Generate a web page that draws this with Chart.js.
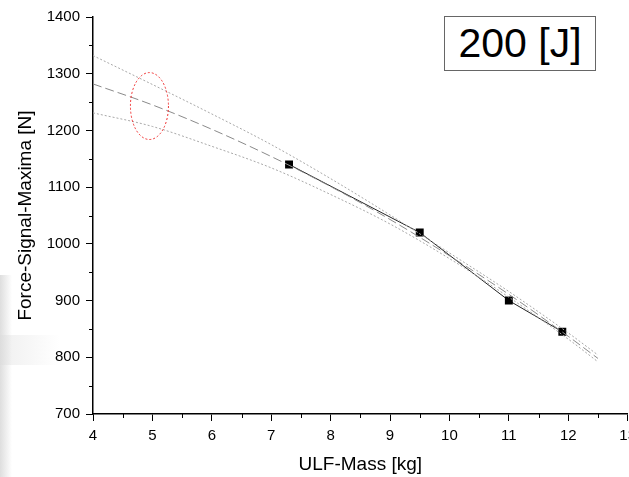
<!DOCTYPE html>
<html>
<head>
<meta charset="utf-8">
<script src="https://cdn.jsdelivr.net/npm/chart.js@4.4.1/dist/chart.umd.min.js"></script>
<style>
  body { margin: 0; overflow: hidden; background: #fff; width: 629px; height: 477px; position: relative; }
  #wrap { position: absolute; left: 0; top: 0; width: 642px; height: 477px; }
  #shade { position: absolute; left: 0; top: 275px; width: 12px; height: 202px;
           background: linear-gradient(to right, #dedede, #ffffff); }
  #shade2 { position: absolute; left: 0; top: 335px; width: 60px; height: 30px;
            background: linear-gradient(to right, rgba(220,220,220,0.45), rgba(255,255,255,0)); }
  #energy { position: absolute; left: 444px; top: 16px; width: 152px; height: 55px;
            border: 1px solid #666; background: #fff; box-sizing: border-box;
            font-family: "Liberation Sans", Arial, sans-serif; font-size: 41px; line-height: 53px;
            text-align: center; color: #000; }
</style>
</head>
<body>
<div id="shade"></div>
<div id="shade2"></div>
<div id="wrap"><canvas id="forceChart"></canvas></div>
<div id="energy">200 [J]</div>
<script>
// measured points (ULF mass vs force maxima)
const massValues = [7.3, 9.5, 11.0, 11.9];
const forceValues = [1140, 1020, 900, 845];

// fit curve + confidence band
const fitMass = [4, 5, 6, 7, 8, 9, 10, 11, 12, 12.5];
const fitForce = [1282, 1245, 1202, 1154, 1101, 1043, 979, 911, 837, 798];
const upperForce = [1332, 1281, 1229, 1175, 1115, 1051, 984, 916, 843, 804];
const lowerForce = [1231, 1207, 1172, 1134, 1087, 1035, 974, 906, 832, 792];

// red dotted ellipse marking the extrapolated region (center + radii in data units)
const markCenter = [4.95, 1243];
const markRadius = [0.32, 59];

const xTicks = [4, 5, 6, 7, 8, 9, 10, 11, 12, 13];
const yTicks = [700, 800, 900, 1000, 1100, 1200, 1300, 1400];

function toPoints(xs, ys) {
    return xs.map(function (x, i) { return { x: x, y: ys[i] }; });
}

const fontName = "'Liberation Sans', Arial, sans-serif";

// minor ticks + the red ellipse
const extrasPlugin = {
    id: 'extras',
    afterDraw: function (chart) {
        const ctx = chart.ctx;
        const xs = chart.scales.x;
        const ys = chart.scales.y;
        ctx.save();
        ctx.strokeStyle = '#000';
        ctx.lineWidth = 1;
        ctx.beginPath();
        for (let v = 4.5; v < 13; v += 1) {
            const px = Math.round(xs.getPixelForValue(v)) + 0.5;
            ctx.moveTo(px, ys.bottom);
            ctx.lineTo(px, ys.bottom + 4);
        }
        for (let v = 750; v < 1400; v += 100) {
            const py = Math.round(ys.getPixelForValue(v)) + 0.5;
            ctx.moveTo(xs.left, py);
            ctx.lineTo(xs.left - 4, py);
        }
        ctx.stroke();

        // ellipse
        const cx = xs.getPixelForValue(markCenter[0]);
        const cy = ys.getPixelForValue(markCenter[1]);
        const rx = Math.abs(xs.getPixelForValue(markCenter[0] + markRadius[0]) - cx);
        const ry = Math.abs(ys.getPixelForValue(markCenter[1] + markRadius[1]) - cy);
        ctx.strokeStyle = '#f03030';
        ctx.setLineDash([2, 2]);
        ctx.beginPath();
        ctx.ellipse(cx, cy, rx, ry, 0, 0, Math.PI * 2);
        ctx.stroke();
        ctx.restore();
    }
};

const ch = document.getElementById('forceChart');

forceChart = new Chart(ch, {
    type: 'line',
    data: {
        datasets: [{
            label: 'upper',
            data: toPoints(fitMass, upperForce),
            borderColor: '#a8a8a8',
            borderWidth: 1,
            borderDash: [2, 2],
            pointRadius: 0,
            cubicInterpolationMode: 'monotone'
        }, {
            label: 'lower',
            data: toPoints(fitMass, lowerForce),
            borderColor: '#a8a8a8',
            borderWidth: 1,
            borderDash: [2, 2],
            pointRadius: 0,
            cubicInterpolationMode: 'monotone'
        }, {
            label: 'fit',
            data: toPoints(fitMass, fitForce),
            borderColor: '#8a8a8a',
            borderWidth: 1,
            borderDash: [9, 4],
            pointRadius: 0,
            cubicInterpolationMode: 'monotone'
        }, {
            label: 'measured',
            data: toPoints(massValues, forceValues),
            borderColor: '#222',
            borderWidth: 1,
            pointStyle: 'rect',
            pointRadius: 5.6,
            pointBackgroundColor: '#000',
            pointBorderColor: '#000',
            pointBorderWidth: 0
        }]
    },
    options: {
        animation: false,
        responsive: true,
        maintainAspectRatio: false,
        layout: { padding: { top: 17, right: 9, left: 0, bottom: 0 } },
        plugins: {
            legend: { display: false },
            tooltip: { enabled: false }
        },
        scales: {
            x: {
                type: 'linear',
                min: 4,
                max: 13,
                afterFit: function (scale) { scale.height = 63; },
                afterBuildTicks: function (scale) {
                    scale.ticks = xTicks.map(function (v) { return { value: v }; });
                },
                ticks: {
                    color: '#000', font: { family: fontName, size: 15 }, padding: 6, maxRotation: 0,
                    callback: function (v) { return String(v); }
                },
                grid: { drawOnChartArea: false, drawTicks: true, tickLength: 7, color: '#000' },
                border: { display: true, color: '#000', width: 1.5 },
                title: {
                    display: true,
                    text: 'ULF-Mass [kg]',
                    color: '#000',
                    font: { family: fontName, size: 19 },
                    padding: { top: 4, bottom: 1 }
                }
            },
            y: {
                type: 'linear',
                min: 700,
                max: 1400,
                afterFit: function (scale) { scale.width = 93; },
                afterBuildTicks: function (scale) {
                    scale.ticks = yTicks.map(function (v) { return { value: v }; });
                },
                ticks: {
                    color: '#000', font: { family: fontName, size: 15 }, padding: 6,
                    callback: function (v) { return String(v); }
                },
                grid: { drawOnChartArea: false, drawTicks: true, tickLength: 7, color: '#000' },
                border: { display: true, color: '#000', width: 1.5 },
                title: {
                    display: true,
                    text: 'Force-Signal-Maxima [N]',
                    color: '#000',
                    font: { family: fontName, size: 19 },
                    padding: { top: 14, bottom: 0 }
                }
            }
        }
    },
    plugins: [extrasPlugin]
});
</script>
</body>
</html>
